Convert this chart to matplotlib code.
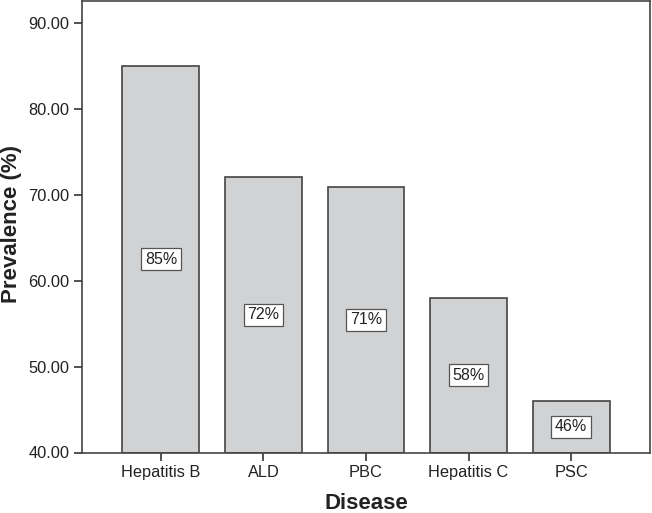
import matplotlib
matplotlib.use("Agg")
import matplotlib.pyplot as plt

categories = ["Hepatitis B", "ALD", "PBC", "Hepatitis C", "PSC"]
values = [85.0, 72.1, 70.9, 58.0, 46.0]
labels = ["85%", "72%", "71%", "58%", "46%"]
yticks = [40, 50, 60, 70, 80, 90]

plt.rcParams['font.family'] = ['Liberation Sans', 'DejaVu Sans']

fig = plt.figure(figsize=(6.52, 5.13), dpi=100)
ax = fig.add_axes([82/652, (513-452.5)/513, (650-82)/652, (452.5-1)/513])

base = 40
x = range(len(categories))
ax.bar(x, [v - base for v in values], bottom=base, width=0.75,
       color="#d1d2d4", edgecolor="#444444", linewidth=1.2, zorder=2)
for i, (v, lab) in enumerate(zip(values, labels)):
    ax.text(i, (base + v) / 2, lab, ha="center", va="center", fontsize=11.5,
            color="#222222",
            bbox=dict(boxstyle="square,pad=0.22", fc="white", ec="#555555", lw=0.9),
            zorder=3)

ax.set_xlim(-0.77, 4.77)
ax.set_ylim(40, 92.6)
ax.set_yticks(yticks)
ax.set_yticklabels([f"{t:.2f}" for t in yticks])
ax.set_xticks(list(x))
ax.set_xticklabels(categories)
ax.tick_params(axis="both", labelsize=11.8, colors="#333333", labelcolor="#222222",
               length=6, width=1.2, direction="out", pad=3)
for s in ax.spines.values():
    s.set_color("#444444")
    s.set_linewidth(1.2)

ax.set_xlabel("Disease", fontsize=16, fontweight="bold", color="#222222", labelpad=9.5)
ax.set_ylabel("Prevalence (%)", fontsize=16, fontweight="bold", color="#222222")
ax.yaxis.set_label_coords((22 - 82) / 568, 0.505)

fig.savefig("out.png", dpi=100)
